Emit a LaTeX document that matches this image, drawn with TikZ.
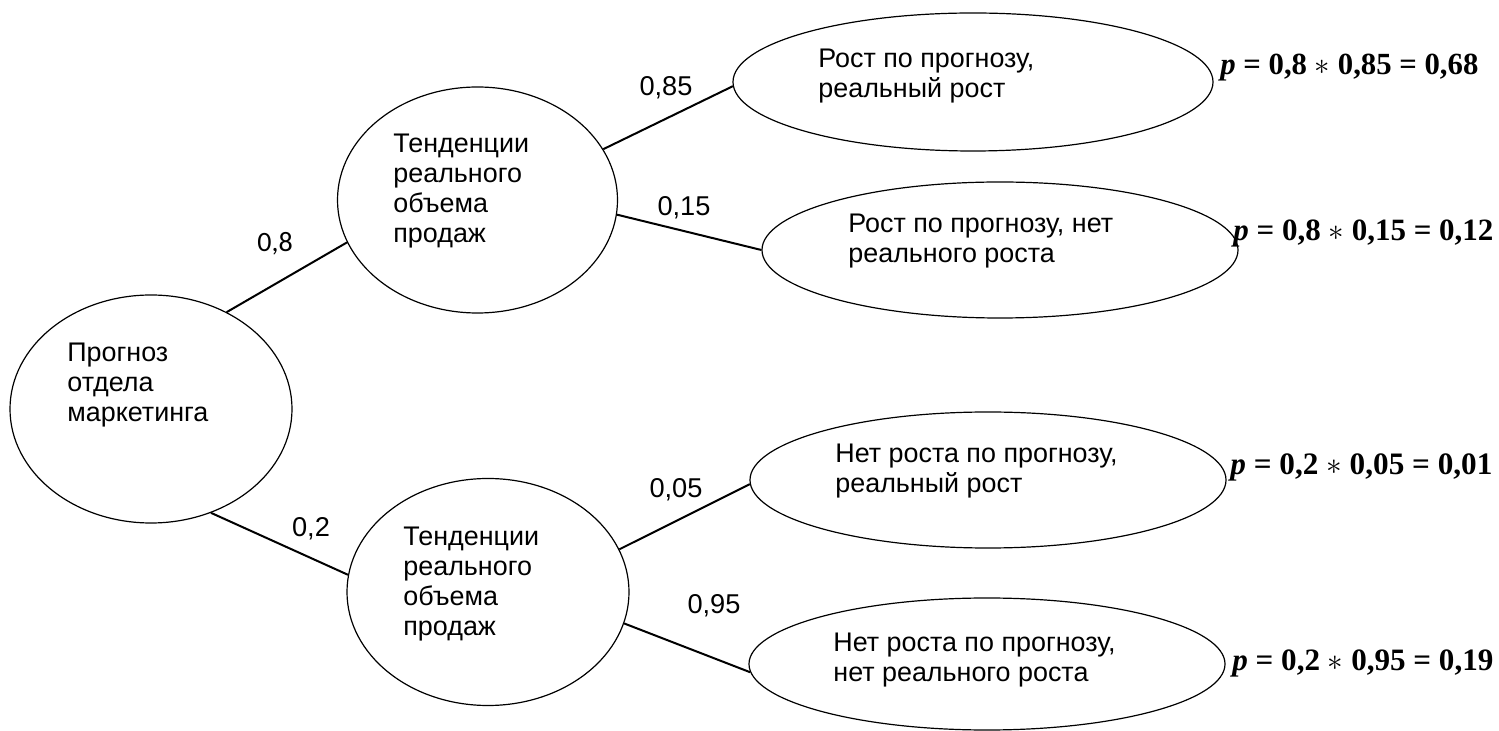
\documentclass[tikz,border=0pt]{standalone}
\usepackage{fontspec}
\usepackage{graphicx}
\setmainfont{Liberation Sans}
\newfontfamily\calib{Carlito}
\newfontfamily\serifb{Liberation Serif}
\usetikzlibrary{shapes.geometric}
\newcommand{\mltext}[1]{\begin{tabular}[t]{@{}l@{}}#1\end{tabular}}
\begin{document}
\begin{tikzpicture}[x=0.5pt,y=-0.5pt,
  ell/.style={draw, ellipse, line width=0.6pt, inner sep=0pt},
  conn/.style={line width=1pt},
  txt/.style={anchor=base west, inner sep=0pt, font=\fontsize{13.45pt}{15pt}\selectfont},
  lbl/.style={inner sep=0pt, font=\fontsize{13.6pt}{15pt}\selectfont},
  frm/.style={anchor=base west, inner sep=0pt}]
\useasboundingbox (0,0) rectangle (1499,731);

% ellipses
\node[ell, minimum width=141pt, minimum height=114pt] (L) at (151,409) {};
\node[ell, minimum width=140pt, minimum height=113pt] (A) at (477.5,200) {};
\node[ell, minimum width=141pt, minimum height=113.5pt] (B) at (488,592) {};
\node[ell, minimum width=240pt, minimum height=69pt] (E1) at (973,82) {};
\node[ell, minimum width=238pt, minimum height=68pt] (E2) at (1000,250) {};
\node[ell, minimum width=238pt, minimum height=68pt] (E3) at (988,480) {};
\node[ell, minimum width=238pt, minimum height=66pt] (E4) at (987,664) {};

% texts
\node[txt] (tL) at (67,362) {\mltext{Прогноз\\отдела\\маркетинга}};
\node[txt] (tA) at (393,153) {\mltext{Тенденции\\реального\\объема\\продаж}};
\node[txt] (tB) at (403,546) {\mltext{Тенденции\\реального\\объема\\продаж}};
\node[txt] (t1) at (818,68) {\mltext{Рост по прогнозу,\\реальный рост}};
\node[txt] (t2) at (848,233) {\mltext{Рост по прогнозу, нет\\реального роста}};
\node[txt] (t3) at (835,463) {\mltext{Нет роста по прогнозу,\\реальный рост}};
\node[txt] (t4) at (833,652) {\mltext{Нет роста по прогнозу,\\нет реального роста}};

% connectors
\draw[conn] (L.52.4) -- (A.198.3);
\draw[conn] (L.300.8) -- (B.173.1);
\draw[conn] (A.22.0) -- (E1.181.4);
\draw[conn] (A.354.3) -- (E2.180.7);
\draw[conn] (B.18.7) -- (E3.181.5);
\draw[conn] (B.347.9) -- (E4.182.2);

% labels
\node[inner sep=0pt, font=\calib\fontsize{14pt}{16pt}\selectfont] (l08) at (275,244) {0,8};
\node[lbl] (l02) at (311,529) {0,2};
\node[lbl] (l085) at (666,88) {0,85};
\node[lbl] (l015) at (684,208) {0,15};
\node[lbl] (l005) at (676,490) {0,05};
\node[lbl] (l095) at (714,606) {0,95};

% formulas
\node[frm] (F1) at (1220,75) {\resizebox{129pt}{!}{\serifb\bfseries\textit{p} = 0,8 $\ast$ 0,85 = 0,68}};
\node[frm] (F2) at (1233,241) {\resizebox{130pt}{!}{\serifb\bfseries\textit{p} = 0,8 $\ast$ 0,15 = 0,12}};
\node[frm] (F3) at (1230,475) {\resizebox{131pt}{!}{\serifb\bfseries\textit{p} = 0,2 $\ast$ 0,05 = 0,01}};
\node[frm] (F4) at (1232,670) {\resizebox{130.5pt}{!}{\serifb\bfseries\textit{p} = 0,2 $\ast$ 0,95 = 0,19}};
\end{tikzpicture}
\end{document}
